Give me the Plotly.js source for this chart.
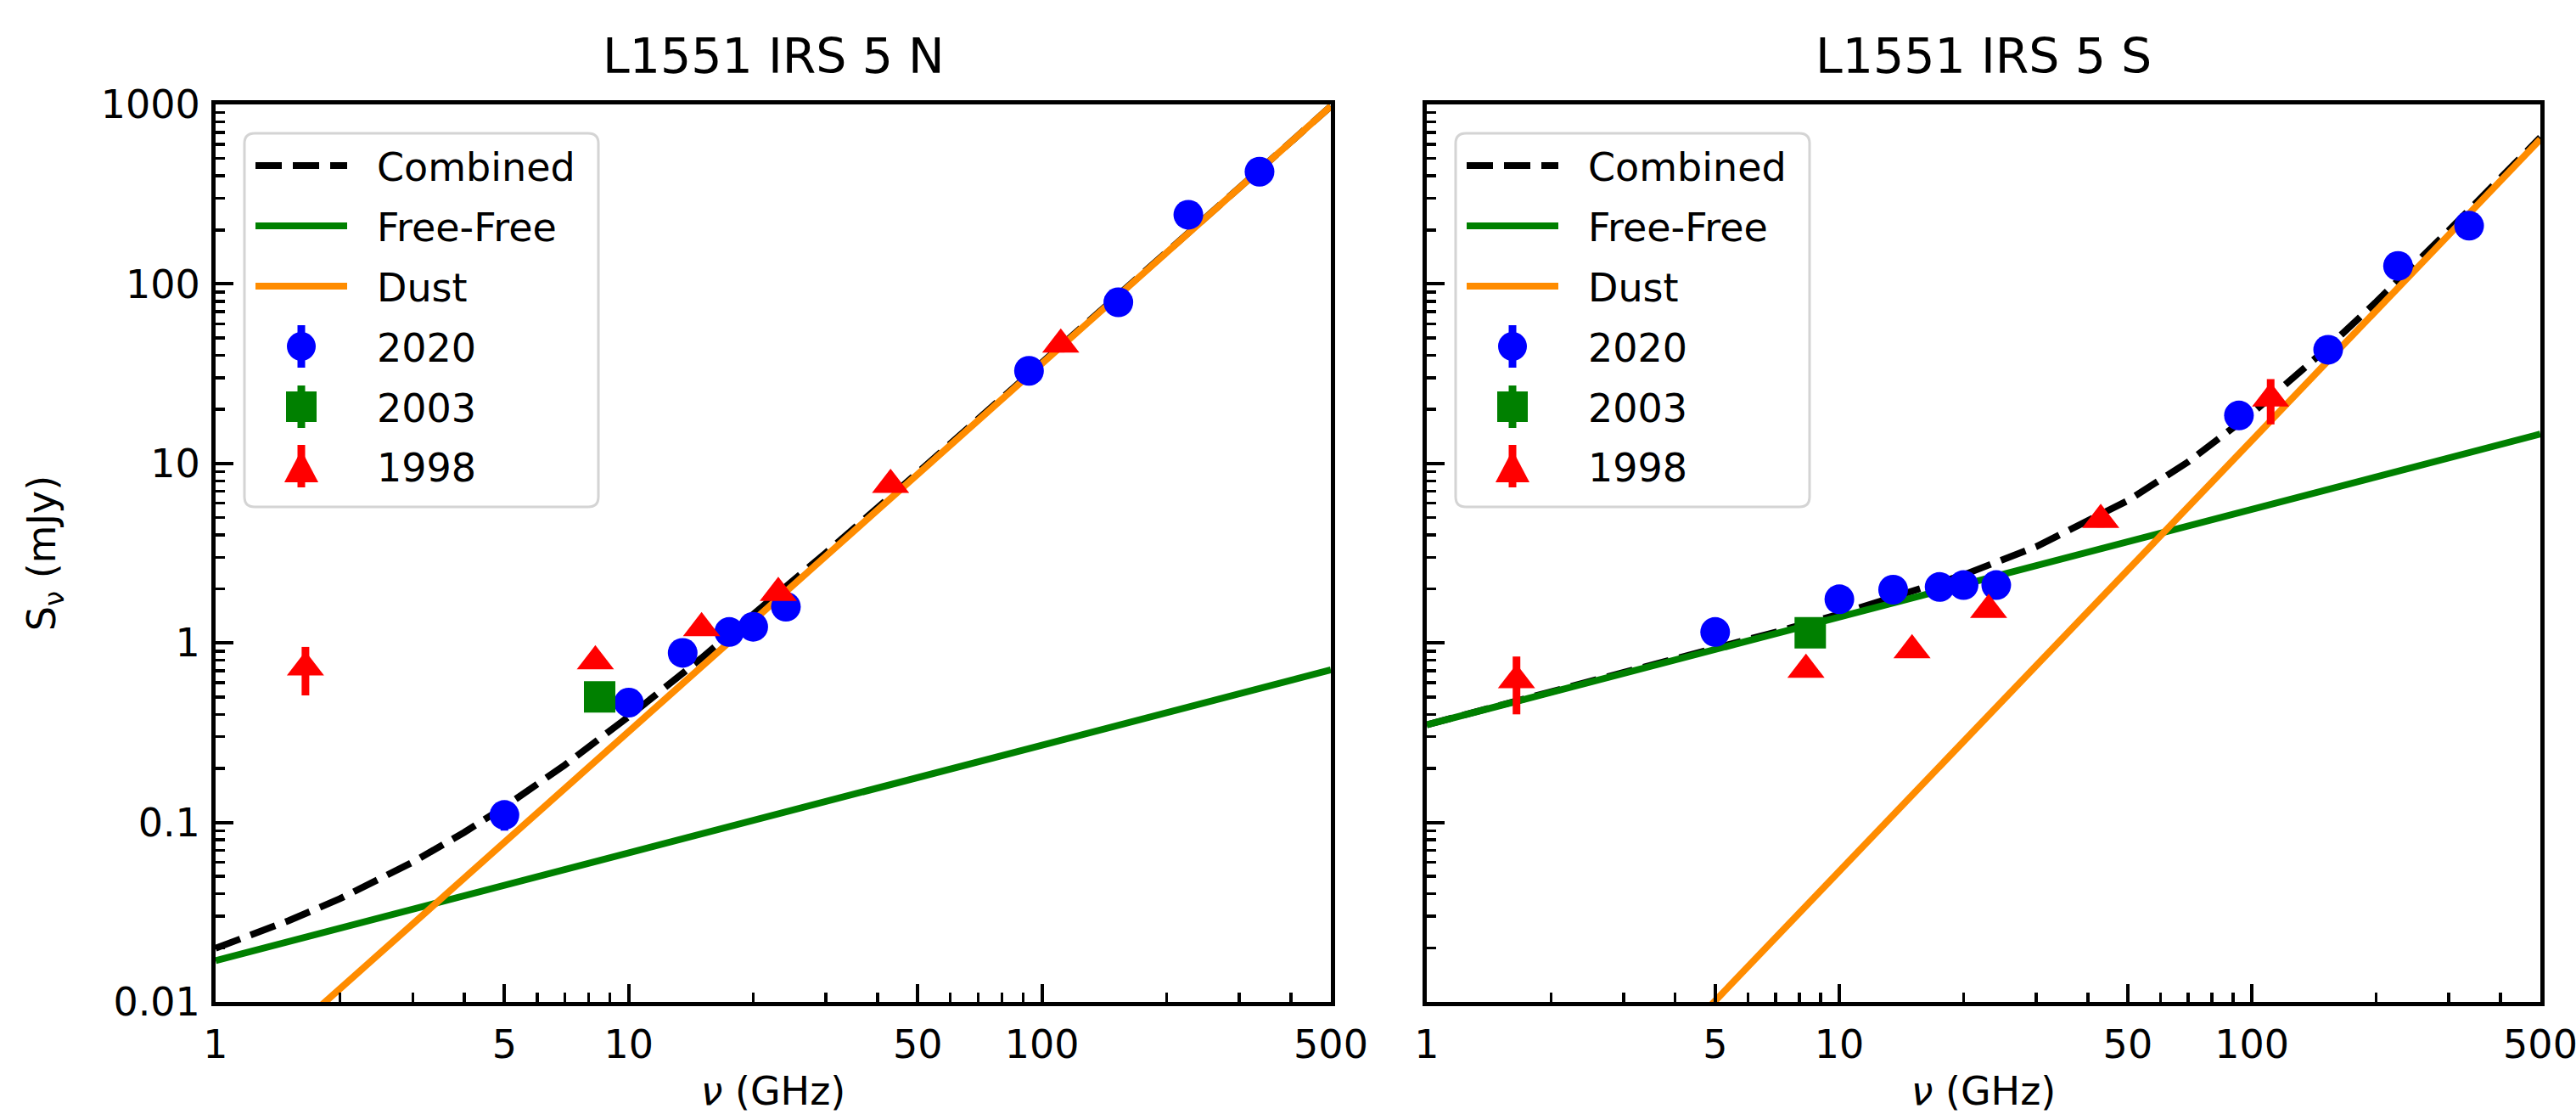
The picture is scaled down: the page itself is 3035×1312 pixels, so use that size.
<!DOCTYPE html>
<html>
<head>
<meta charset="utf-8">
<script src="https://cdn.plot.ly/plotly-3.0.1.min.js"></script>
<style>
  html, body { margin: 0; padding: 0; background: #ffffff; }
  #chart { width: 3035px; height: 1312px; }
</style>
</head>
<body>
<div id="chart"></div>
<script>
// ---------------- Data ----------------
const panelTitles = ["L1551 IRS 5 N", "L1551 IRS 5 S"];
const seriesNames = ["Combined", "Free-Free", "Dust", "2020", "2003", "1998"];

// model curves (GHz, mJy)
const nuModel = [1, 1.5, 2, 3, 4, 5, 7, 10, 15, 20, 30, 50, 70, 100, 150, 200, 300, 500];
const combinedN = [0.0199, 0.0283, 0.0376, 0.0601, 0.0881, 0.122, 0.209, 0.389, 0.824, 1.43, 3.18, 8.88, 17.55, 36.3, 83.0, 149.6, 343, 977];
const freefreeN = [0.0170, 0.0217, 0.0258, 0.0329, 0.0391, 0.0447, 0.0546, 0.0677, 0.0863, 0.1026, 0.1308, 0.1778, 0.2175, 0.2694, 0.3436, 0.4084, 0.5209, 0.7077];
const dustN     = [0.00286, 0.00657, 0.01184, 0.0272, 0.0490, 0.0775, 0.1544, 0.321, 0.737, 1.33, 3.05, 8.70, 17.33, 36.0, 82.7, 149.2, 342.6, 976];
const combinedS = [0.350, 0.447, 0.531, 0.680, 0.810, 0.929, 1.148, 1.447, 1.919, 2.394, 3.441, 6.207, 10.19, 18.99, 42.63, 79.36, 198.5, 654.6];
const freefreeS = [0.350, 0.446, 0.530, 0.677, 0.804, 0.919, 1.125, 1.393, 1.777, 2.112, 2.694, 3.660, 4.477, 5.547, 7.075, 8.408, 10.72, 14.57];
const dustS     = [0.000213, 0.000564, 0.001124, 0.002976, 0.00593, 0.01014, 0.0227, 0.0535, 0.1415, 0.2824, 0.747, 2.547, 5.71, 13.44, 35.55, 70.95, 187.8, 640];

// observations
const freq2020 = [5.0, 10.0, 13.5, 17.5, 20.0, 24.0, 93.0, 153, 226, 336];
const flux2020N = [0.11, 0.465, 0.88, 1.15, 1.23, 1.59, 32.8, 79, 243, 422];
const err2020N  = [0.02, 0.04, 0.08, 0.1, 0.11, 0.14, 3, 7, 22, 38];
const flux2020S = [1.15, 1.75, 1.98, 2.05, 2.1, 2.1, 18.5, 43, 126, 211];
const err2020S  = [0.1, 0.15, 0.17, 0.18, 0.18, 0.19, 1.7, 4, 11, 19];

const freq2003 = [8.5];
const flux2003N = [0.50];
const err2003N  = [0.05];
const flux2003S = [1.14];
const err2003S  = [0.1];

const freq1998 = [1.65, 8.3, 15.0, 23.0, 43.0, 111];
const flux1998N = [0.73, 0.79, 1.21, 1.9, 7.6, 46];
const err1998N  = [0.22, 0.07, 0.1, 0.17, 0.7, 4.5];
const flux1998S = [0.62, 0.71, 0.91, 1.53, 4.85, 23];
const err1998S  = [0.22, 0.06, 0.08, 0.13, 0.45, 6.5];

// axis ticks
const xTickVals = [1, 5, 10, 50, 100, 500];
const xTickText = ["1", "5", "10", "50", "100", "500"];
const xMinorVals = [2, 3, 4, 6, 7, 8, 9, 20, 30, 40, 60, 70, 80, 90, 200, 300, 400];
const yTickVals = [0.01, 0.1, 1, 10, 100, 1000];
const yTickText = ["0.01", "0.1", "1", "10", "100", "1000"];
const yMinorVals = [0.02,0.03,0.04,0.05,0.06,0.07,0.08,0.09, 0.2,0.3,0.4,0.5,0.6,0.7,0.8,0.9,
                    2,3,4,5,6,7,8,9, 20,30,40,50,60,70,80,90, 200,300,400,500,600,700,800,900];

// ---------------- Styling ----------------
const W = 3035, H = 1312;
const FONT = "DejaVu Sans";
const colors = { combined: "#000000", ff: "#008000", dust: "#ff8c00", y2020: "#0000ff", y2003: "#008000", y1998: "#ff0000" };
const panelPx = [ { x0: 254, x1: 1568 }, { x0: 1681, x1: 2993 } ];
const plotTop = 123, plotBottom = 1180;

function px2x(p) { return p / W; }
function px2y(p) { return 1 - p / H; }

function panelTraces(idx, comb, ff, dust, f20, e20, f03, e03, f98, e98) {
  const xa = idx === 0 ? "x" : "x2";
  const ya = idx === 0 ? "y" : "y2";
  return [
    { x: nuModel, y: comb, name: seriesNames[0], mode: "lines", xaxis: xa, yaxis: ya, showlegend: false,
      line: { color: colors.combined, width: 8, dash: "31px,13px" } },
    { x: nuModel, y: ff, name: seriesNames[1], mode: "lines", xaxis: xa, yaxis: ya, showlegend: false,
      line: { color: colors.ff, width: 8 } },
    { x: nuModel, y: dust, name: seriesNames[2], mode: "lines", xaxis: xa, yaxis: ya, showlegend: false,
      line: { color: colors.dust, width: 8 } },
    { x: freq2020, y: f20, name: seriesNames[3], mode: "markers", xaxis: xa, yaxis: ya, showlegend: false,
      marker: { symbol: "circle", size: 35, color: colors.y2020 },
      error_y: { type: "data", array: e20, visible: true, color: colors.y2020, thickness: 9, width: 0 } },
    { x: freq2003, y: f03, name: seriesNames[4], mode: "markers", xaxis: xa, yaxis: ya, showlegend: false,
      marker: { symbol: "square", size: 37, color: colors.y2003 },
      error_y: { type: "data", array: e03, visible: true, color: colors.y2003, thickness: 9, width: 0 } },
    { x: freq1998, y: f98, name: seriesNames[5], mode: "markers", xaxis: xa, yaxis: ya, showlegend: false,
      marker: { symbol: "triangle-up", size: 38, color: colors.y1998 },
      error_y: { type: "data", array: e98, visible: true, color: colors.y1998, thickness: 9, width: 0 } }
  ];
}

const data = [].concat(
  panelTraces(0, combinedN, freefreeN, dustN, flux2020N, err2020N, flux2003N, err2003N, flux1998N, err1998N),
  panelTraces(1, combinedS, freefreeS, dustS, flux2020S, err2020S, flux2003S, err2003S, flux1998S, err1998S)
);

function xAxis(idx) {
  return {
    type: "log", range: [0, Math.log10(500)],
    domain: [px2x(panelPx[idx].x0), px2x(panelPx[idx].x1)],
    anchor: idx === 0 ? "y" : "y2",
    tickmode: "array", tickvals: xTickVals, ticktext: xTickText,
    ticks: "inside", ticklen: 21, tickwidth: 4, tickcolor: "#000",
    minor: { tickmode: "array", tickvals: xMinorVals, ticks: "inside", ticklen: 11, tickwidth: 3.5, tickcolor: "#000", showgrid: false },
    showline: true, linewidth: 5, linecolor: "#000", mirror: true,
    showgrid: false, zeroline: false,
    tickfont: { family: FONT, size: 46, color: "#000" },
    ticklabelstandoff: 6,
    ticklabeloverflow: "allow",
    title: { text: "<i>ν</i> (GHz)", font: { family: FONT, size: 46, color: "#000" }, standoff: 28 }
  };
}
function yAxis(idx) {
  const ax = {
    type: "log", range: [-2, 3],
    domain: [px2y(plotBottom), px2y(plotTop)],
    anchor: idx === 0 ? "x" : "x2",
    tickmode: "array", tickvals: yTickVals, ticktext: yTickText,
    ticks: "inside", ticklen: 21, tickwidth: 4, tickcolor: "#000",
    minor: { tickmode: "array", tickvals: yMinorVals, ticks: "inside", ticklen: 11, tickwidth: 3.5, tickcolor: "#000", showgrid: false },
    showline: true, linewidth: 5, linecolor: "#000", mirror: true,
    showgrid: false, zeroline: false,
    tickfont: { family: FONT, size: 46, color: "#000" },
    ticklabelstandoff: 4,
    ticklabeloverflow: "allow"
  };
  if (idx === 0) {
    ax.title = { text: "S<sub>ν</sub> (mJy)", font: { family: FONT, size: 46, color: "#000" }, standoff: 40 };
  } else {
    ax.showticklabels = false;
    ax.matches = "y";
  }
  return ax;
}

// ---------------- Custom legend (drawn in pixel space) ----------------
const shapes = [];
const annotations = [];

function roundRectPath(x0, y0, x1, y1, r) {
  const X = px2x, Y = px2y;
  return "M" + X(x0 + r) + "," + Y(y0) +
    " L" + X(x1 - r) + "," + Y(y0) +
    " Q" + X(x1) + "," + Y(y0) + " " + X(x1) + "," + Y(y0 + r) +
    " L" + X(x1) + "," + Y(y1 - r) +
    " Q" + X(x1) + "," + Y(y1) + " " + X(x1 - r) + "," + Y(y1) +
    " L" + X(x0 + r) + "," + Y(y1) +
    " Q" + X(x0) + "," + Y(y1) + " " + X(x0) + "," + Y(y1 - r) +
    " L" + X(x0) + "," + Y(y0 + r) +
    " Q" + X(x0) + "," + Y(y0) + " " + X(x0 + r) + "," + Y(y0) + " Z";
}

function addLegend(axisLeft) {
  const bx0 = axisLeft + 34, bx1 = axisLeft + 451, by0 = 157, by1 = 597;
  shapes.push({ type: "path", xref: "paper", yref: "paper", layer: "above",
    path: roundRectPath(bx0, by0, bx1, by1, 12),
    fillcolor: "rgba(255,255,255,0.85)", line: { color: "#d4d4d4", width: 3 } });
  const rowY = [195, 266, 337, 408, 479, 549];
  const sx0 = axisLeft + 47, sx1 = axisLeft + 155, cx = axisLeft + 101;
  shapes.push({ type: "line", xref: "paper", yref: "paper", layer: "above",
    x0: px2x(sx0), x1: px2x(sx1), y0: px2y(rowY[0]), y1: px2y(rowY[0]),
    line: { color: colors.combined, width: 8, dash: "31px,13px" } });
  shapes.push({ type: "line", xref: "paper", yref: "paper", layer: "above",
    x0: px2x(sx0), x1: px2x(sx1), y0: px2y(rowY[1]), y1: px2y(rowY[1]),
    line: { color: colors.ff, width: 8 } });
  shapes.push({ type: "line", xref: "paper", yref: "paper", layer: "above",
    x0: px2x(sx0), x1: px2x(sx1), y0: px2y(rowY[2]), y1: px2y(rowY[2]),
    line: { color: colors.dust, width: 8 } });
  const mk = [
    { y: rowY[3], c: colors.y2020, kind: "circle" },
    { y: rowY[4], c: colors.y2003, kind: "square" },
    { y: rowY[5], c: colors.y1998, kind: "triangle" }
  ];
  mk.forEach(m => {
    shapes.push({ type: "line", xref: "paper", yref: "paper", layer: "above",
      x0: px2x(cx), x1: px2x(cx), y0: px2y(m.y - 25), y1: px2y(m.y + 25),
      line: { color: m.c, width: 9 } });
    if (m.kind === "circle") {
      shapes.push({ type: "circle", xref: "paper", yref: "paper", layer: "above",
        x0: px2x(cx - 17), x1: px2x(cx + 17), y0: px2y(m.y - 17), y1: px2y(m.y + 17),
        fillcolor: m.c, line: { width: 0 } });
    } else if (m.kind === "square") {
      shapes.push({ type: "rect", xref: "paper", yref: "paper", layer: "above",
        x0: px2x(cx - 18), x1: px2x(cx + 18), y0: px2y(m.y - 18), y1: px2y(m.y + 18),
        fillcolor: m.c, line: { width: 0 } });
    } else {
      shapes.push({ type: "path", xref: "paper", yref: "paper", layer: "above",
        path: "M" + px2x(cx) + "," + px2y(m.y - 19) + " L" + px2x(cx + 20) + "," + px2y(m.y + 19) +
              " L" + px2x(cx - 20) + "," + px2y(m.y + 19) + " Z",
        fillcolor: m.c, line: { width: 0 } });
    }
  });
  seriesNames.forEach((nm, i) => {
    annotations.push({ xref: "paper", yref: "paper", x: px2x(axisLeft + 188), y: px2y(rowY[i] + 2),
      xanchor: "left", yanchor: "middle", showarrow: false, text: nm,
      font: { family: FONT, size: 46, color: "#000" } });
  });
}
addLegend(panelPx[0].x0);
addLegend(panelPx[1].x0);

// panel titles
panelTitles.forEach((t, i) => {
  annotations.push({ xref: "paper", yref: "paper",
    x: px2x((panelPx[i].x0 + panelPx[i].x1) / 2), y: px2y(66),
    xanchor: "center", yanchor: "middle", showarrow: false, text: t,
    font: { family: FONT, size: 57, color: "#000" } });
});

const layout = {
  width: W, height: H,
  margin: { l: 0, r: 0, t: 0, b: 0, pad: 0 },
  paper_bgcolor: "#ffffff", plot_bgcolor: "#ffffff",
  font: { family: FONT, color: "#000" },
  showlegend: false,
  xaxis: xAxis(0), yaxis: yAxis(0),
  xaxis2: xAxis(1), yaxis2: yAxis(1),
  shapes: shapes,
  annotations: annotations
};

Plotly.newPlot("chart", data, layout, { staticPlot: true, displayModeBar: false });
</script>
</body>
</html>
